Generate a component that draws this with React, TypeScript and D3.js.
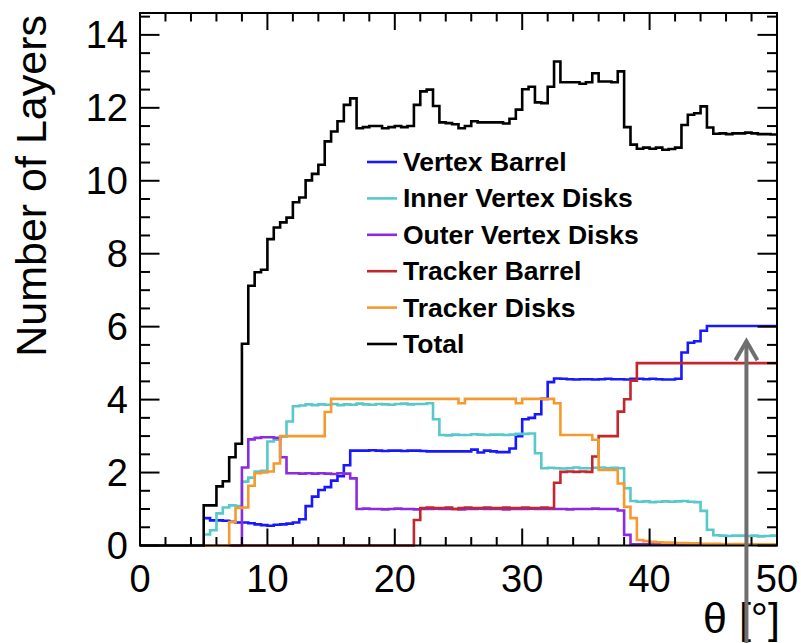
import React from "react";
import * as d3 from "d3";

// Bin layout: 100 bins of 0.5 degrees from 0 to 50 degrees
const BIN_WIDTH = 0.5;
const N_BINS = 100;

// Number of layers crossed per polar-angle bin (values from bin 0 = [0, 0.5) onward)
const zeros = (n: number) => Array.from({ length: n }, () => 0);
const repeat = (v: number, n: number) => Array.from({ length: n }, () => v);

const vertexBarrel = [
  ...zeros(10),
  0.75, 0.69, 0.69, 0.68, 0.65, 0.63, 0.63, 0.61, 0.58, 0.56,
  0.54, 0.57, 0.58, 0.6, 0.63, 0.72, 1.08, 1.34, 1.52, 1.6,
  1.78, 1.9, 2.2, 2.6, 2.6, 2.6, 2.61, 2.6, 2.59, 2.6,
  2.6, 2.59, 2.6, 2.6, 2.59, 2.58, 2.58, 2.58, 2.58, 2.58,
  2.58, 2.58, 2.63, 2.55, 2.6, 2.58, 2.56, 2.56, 2.66, 3.0,
  3.46, 3.5, 3.6, 4.02, 4.48, 4.58, 4.57, 4.56, 4.55, 4.56,
  4.56, 4.55, 4.56, 4.57, 4.56, 4.56, 4.55, 4.57, 4.57, 4.56,
  4.57, 4.56, 4.55, 4.55, 4.57, 5.29, 5.56, 5.6, 5.89, 6.02,
  6.02, 6.02, 6.02, 6.02, 6.02, 6.02, 6.02, 6.02, 6.02, 6.02,
];

const innerVertexDisks = [
  ...zeros(10),
  0.3, 0.42, 0.88, 1.04, 1.1, 1.08, 1.75, 1.86, 2.03, 2.05,
  2.85, 2.9, 2.98, 3.4, 3.82, 3.84, 3.87, 3.85, 3.87, 3.86,
  3.88, 3.85, 3.87, 3.86, 3.89, 3.87, 3.86, 3.88, 3.87, 3.86,
  3.88, 3.89, 3.87, 3.88, 3.88, 3.9, 3.46, 3.03, 3.02, 3.04,
  3.03, 3.03, 3.05, 3.04, 3.03, 3.04, 3.04, 3.03, 3.04, 3.06,
  3.06, 3.07, 2.53, 2.12, 2.13, 2.12, 2.11, 2.12, 2.14, 2.12,
  2.12, 2.13, 2.14, 2.12, 2.13, 2.12, 1.57, 1.22, 1.2, 1.21,
  1.19, 1.2, 1.21, 1.2, 1.21, 1.22, 1.2, 1.19, 0.95, 0.43,
  0.28, 0.27, 0.26, 0.27, 0.27, 0.26, 0.27, 0.25, 0.26, 0.27,
];

const outerVertexDisks = [
  ...zeros(16),
  2.14, 2.91, 2.95, 2.97, 2.97, 2.95, 2.42,
  1.98, 1.98, 1.97, 1.98, 1.97, 1.98, 1.97, 1.96, 1.98, 1.97,
  1.84,
  1.0, 1.01, 1.0, 1.0, 0.99, 1.0, 1.01, 1.0, 1.0, 0.99,
  1.0, 1.0, 1.01, 1.0, 1.0, 1.0, 0.99, 1.0, 1.0, 1.01,
  1.0, 1.0, 1.0, 0.99, 1.0, 1.0, 1.0, 1.01, 1.0, 1.0,
  1.0, 1.0, 1.0, 0.99, 1.0, 1.0, 1.0, 1.01, 1.0, 1.0,
  1.0,
  0.96, 0.29,
  ...repeat(0.03, 23),
];

const trackerBarrel = [
  ...zeros(43),
  0.7, 1.03, 1.04, 1.03, 1.03, 1.04, 1.0, 1.03, 1.04, 1.03,
  1.03, 1.04, 1.03, 1.03, 1.04, 1.03, 1.03, 1.04, 1.03, 1.03,
  1.04, 1.03, 1.72, 2.02, 2.03, 2.02, 2.03, 2.02, 2.44, 3.0,
  3.0, 3.0, 3.67, 4.01, 4.52, 5.0, 5.0, 5.0, 5.0, 5.0,
  5.0, 5.0, 5.0, 5.0, 5.0, 5.0, 5.0, 5.0, 5.0, 5.0,
  5.0, 5.0, 5.0, 5.0, 5.0, 5.0, 5.0,
];

const trackerDisks = [
  ...zeros(14),
  0.64, 1.03, 1.04, 1.64, 1.98, 2.0, 2.03, 2.25, 3.0, 3.0,
  3.0, 3.0, 3.0, 3.0, 3.0, 3.66, 4.02, 4.02, 4.02, 4.02,
  4.02, 4.02, 4.02, 4.02, 4.02, 4.02, 4.02, 4.02, 4.02, 4.02,
  4.02, 4.02, 4.02, 4.02, 4.02, 4.02, 3.9, 4.02, 4.02, 4.02,
  4.02, 4.02, 4.02, 4.02, 4.02, 3.9, 4.02, 4.02, 4.02, 4.02,
  4.02, 3.9, 3.03, 3.03, 3.03, 3.03, 3.03, 2.9, 2.07, 2.07,
  2.07, 1.7, 1.06, 0.75, 0.15, 0.12, 0.1, 0.09, 0.08, 0.08,
  0.07, 0.07, 0.06, 0.06, 0.05, 0.05, 0.05, 0.04, 0.04, 0.04,
  0.04, 0.03, 0.03, 0.03, 0.03, 0.03,
];

const total = [
  ...zeros(10),
  1.1, 1.1, 1.62, 1.76, 2.42, 2.79, 5.53, 7.12, 7.49, 7.56,
  8.4, 8.72, 8.86, 8.99, 9.41, 9.54, 10.01, 10.19, 10.44, 11.08,
  11.35, 11.63, 12.08, 12.26, 11.44, 11.47, 11.5, 11.5, 11.44, 11.47,
  11.5, 11.47, 11.5, 12.08, 12.45, 12.5, 12.05, 11.6, 11.58, 11.55,
  11.44, 11.5, 11.63, 11.6, 11.6, 11.6, 11.6, 11.57, 11.7, 11.95,
  12.51, 12.58, 12.15, 12.13, 12.58, 13.27, 12.7, 12.7, 12.7, 12.66,
  12.7, 12.95, 12.72, 12.72, 12.7, 13.0, 11.47, 10.99, 10.88, 10.91,
  10.88, 10.91, 10.85, 10.87, 10.91, 11.53, 11.81, 11.85, 12.04, 11.46,
  11.29, 11.3, 11.28, 11.3, 11.3, 11.32, 11.3, 11.28, 11.28, 11.27,
];

const seriesNames = [
  "Vertex Barrel",
  "Inner Vertex Disks",
  "Outer Vertex Disks",
  "Tracker Barrel",
  "Tracker Disks",
  "Total",
];
const seriesValues = [vertexBarrel, innerVertexDisks, outerVertexDisks, trackerBarrel, trackerDisks, total];
// First bin drawn for each histogram (leading empty bins before this are not drawn)
const seriesFirstBin = [10, 10, 14, 14, 10, 0];
const seriesColors = ["#1818ff", "#57c9cb", "#8a2be2", "#c1272d", "#f59a2e", "#000000"];

const xMajorTicks = [0, 10, 20, 30, 40, 50];
const yMajorTicks = [0, 2, 4, 6, 8, 10, 12, 14];

// Marker arrow position (degrees, layers)
const arrowTheta = 47.6;
const arrowTip = 5.6;

const W = 801;
const H = 643;
const FRAME = { left: 140, right: 777, top: 13, bottom: 545.5 };

export default function App() {
  const x = d3.scaleLinear().domain([0, 50]).range([FRAME.left, FRAME.right]);
  const y = d3.scaleLinear().domain([0, 14.6]).range([FRAME.bottom, FRAME.top]);

  const xMinor = d3.range(0, 50.001, 2);
  const yMinor = d3.range(0, 14.6, 0.5);

  const line = d3
    .line<[number, number]>()
    .x((d) => x(d[0]))
    .y((d) => y(d[1]));

  const histPath = (vals: number[], first: number) => {
    const pts: [number, number][] = [];
    for (let i = first; i < Math.min(vals.length, N_BINS); i++) {
      pts.push([i * BIN_WIDTH, vals[i]]);
      pts.push([(i + 1) * BIN_WIDTH, vals[i]]);
    }
    return line(pts) || "";
  };

  const font = "'Liberation Sans', Arial, Helvetica, sans-serif";
  const legendX0 = 367;
  const legendX1 = 397;
  const legendY0 = 162;
  const legendDy = 36.4;

  const ax = x(arrowTheta);
  const ay = y(arrowTip);

  return (
    <svg
      width={W}
      height={H}
      style={{ position: "fixed", left: 0, top: 0, background: "#fff" }}
      fontFamily={font}
    >
      <rect x={0} y={0} width={W} height={H} fill="#fff" />

      {/* histograms: components first, total last */}
      {seriesValues.map((vals, k) => (
        <path
          key={seriesNames[k]}
          d={histPath(vals, seriesFirstBin[k])}
          fill="none"
          stroke={seriesColors[k]}
          strokeWidth={2.6}
          strokeLinejoin="miter"
        />
      ))}

      {/* frame */}
      <rect
        x={FRAME.left}
        y={FRAME.top}
        width={FRAME.right - FRAME.left}
        height={FRAME.bottom - FRAME.top}
        fill="none"
        stroke="#000"
        strokeWidth={2}
      />

      {/* x ticks, bottom and top */}
      {xMinor.map((t) => {
        const major = xMajorTicks.includes(t);
        const len = major ? 17 : 8.5;
        return (
          <g key={"xt" + t} stroke="#000" strokeWidth={2}>
            <line x1={x(t)} x2={x(t)} y1={FRAME.bottom} y2={FRAME.bottom - len} />
            <line x1={x(t)} x2={x(t)} y1={FRAME.top} y2={FRAME.top + len} />
          </g>
        );
      })}

      {/* y ticks, left and right */}
      {yMinor.map((t) => {
        const major = yMajorTicks.includes(t);
        const len = major ? 19.5 : 10;
        return (
          <g key={"yt" + t} stroke="#000" strokeWidth={2}>
            <line x1={FRAME.left} x2={FRAME.left + len} y1={y(t)} y2={y(t)} />
            <line x1={FRAME.right} x2={FRAME.right - len} y1={y(t)} y2={y(t)} />
          </g>
        );
      })}

      {/* x tick labels */}
      {xMajorTicks.map((t) => (
        <text key={"xl" + t} x={x(t)} y={592} fontSize={38} textAnchor="middle" fill="#000">
          {t}
        </text>
      ))}

      {/* y tick labels */}
      {yMajorTicks.map((t) => (
        <text
          key={"yl" + t}
          x={128}
          y={y(t)}
          fontSize={38}
          textAnchor="end"
          dominantBaseline="central"
          fill="#000"
        >
          {t}
        </text>
      ))}

      {/* axis titles */}
      <text
        transform={`translate(46,${FRAME.top + 2}) rotate(-90)`}
        fontSize={43}
        textAnchor="end"
        fill="#000"
      >
        Number of Layers
      </text>
      <text x={780} y={633} fontSize={43} textAnchor="end" fill="#000">
        θ [°]
      </text>

      {/* legend */}
      {seriesNames.map((name, i) => (
        <g key={"lg" + name}>
          <line
            x1={legendX0}
            x2={legendX1}
            y1={legendY0 + i * legendDy}
            y2={legendY0 + i * legendDy}
            stroke={seriesColors[i]}
            strokeWidth={2.6}
          />
          <text
            x={403}
            y={legendY0 + i * legendDy}
            fontSize={26.5}
            fontWeight="bold"
            dominantBaseline="central"
            fill="#000"
          >
            {name}
          </text>
        </g>
      ))}

      {/* marker arrow */}
      <g stroke="#6f6f6f" strokeWidth={4} fill="none" strokeLinecap="butt">
        <line x1={ax} x2={ax} y1={ay + 1} y2={H} />
        <polyline points={`${ax - 11},${ay + 19} ${ax},${ay} ${ax + 11},${ay + 19}`} strokeLinejoin="miter" />
      </g>
    </svg>
  );
}
